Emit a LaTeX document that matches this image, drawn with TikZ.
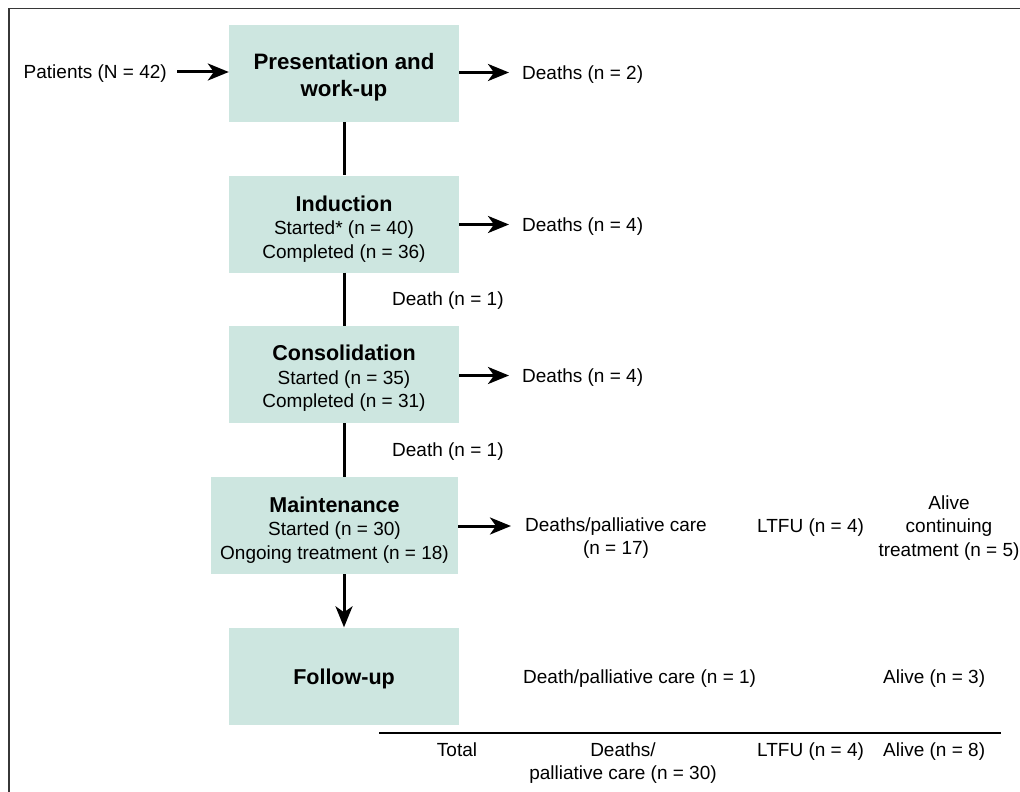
\documentclass[tikz,border=0pt]{standalone}
\usepackage{fontspec}
\setmainfont{Liberation Sans}
\usetikzlibrary{arrows.meta}
\definecolor{boxfill}{RGB}{205,230,224}
\definecolor{framegray}{RGB}{55,55,55}
\newcommand{\upstrut}[1]{\rule{0pt}{#1}}
\begin{document}
\begin{tikzpicture}[x=1pt,y=-1pt,
  stage/.style={fill=boxfill, minimum width=230pt, minimum height=97pt, inner sep=0pt, align=center, font=\fontsize{19}{23.5}\selectfont},
  lbl/.style={inner sep=0pt, font=\fontsize{19}{23}\selectfont, text height=13.6pt, text depth=0pt},
  mlbl/.style={inner sep=0pt, align=center, font=\fontsize{19}{23.5}\selectfont},
  arr/.style={line width=3pt, -{Stealth[length=21pt,width=17pt,inset=6pt]}},
  ln/.style={line width=3pt}]
\useasboundingbox (0,0) rectangle (1020,792);
\clip (0,0) rectangle (1020,792);
% frame
\draw[line width=1.8pt, framegray] (9,820) -- (9,8.5) -- (1040,8.5);
% stage boxes
\node[stage, font=\bfseries\fontsize{22.3}{27}\selectfont] (b1) at (344,73.5) {\upstrut{24pt}Presentation and\\work-up};
\node[stage] (b2) at (344,224) {\upstrut{25pt}{\bfseries\fontsize{21.5}{26}\selectfont Induction}\\Started* (n = 40)\\Completed (n = 36)};
\node[stage] (b3) at (344,374.5) {\upstrut{23pt}{\bfseries\fontsize{21.5}{26}\selectfont Consolidation}\\Started (n = 35)\\Completed (n = 31)};
\node[stage, minimum width=247pt] (b4) at (334.5,525.5) {\upstrut{24pt}{\bfseries\fontsize{21.5}{26}\selectfont Maintenance}\\Started (n = 30)\\Ongoing treatment (n = 18)};
\node[stage, font=\bfseries\fontsize{21.5}{26}\selectfont] (b5) at (344,676) {\upstrut{22pt}Follow-up};
% labels
\node[lbl, anchor=east] (pat) at (167,72) {Patients (N = 42)};
\node[lbl, anchor=west] (d1) at (522,72.5) {Deaths (n = 2)};
\node[lbl, anchor=west] (d2) at (522,224.5) {Deaths (n = 4)};
\node[lbl, anchor=west] (x1) at (392,298.5) {Death (n = 1)};
\node[lbl, anchor=west] (d3) at (522,375.5) {Deaths (n = 4)};
\node[lbl, anchor=west] (x2) at (392,449.5) {Death (n = 1)};
\node[mlbl] (d4) at (616,538) {Deaths/palliative care\\(n = 17)};
\node[lbl, anchor=west] (l4) at (757,526) {LTFU (n = 4)};
\node[mlbl] (a4) at (949,528) {Alive\\continuing\\treatment (n = 5)};
\node[lbl, anchor=west] (f1) at (523,677) {Death/palliative care (n = 1)};
\node[lbl, anchor=west] (f2) at (883,677) {Alive (n = 3)};
% totals
\coordinate (r1) at (379,733);
\coordinate (r2) at (1001,733);
\draw[line width=2.2pt] (r1) -- (r2);
\node[lbl] (t0) at (457,750) {Total};
\node[mlbl] (t1) at (623,763) {Deaths/\\palliative care (n = 30)};
\node[lbl, anchor=west] (t2) at (757,750) {LTFU (n = 4)};
\node[lbl, anchor=west] (t3) at (883,750) {Alive (n = 8)};
% connectors
\draw[arr, shorten <=10pt] (pat.east) -- (pat.east -| b1.west);
\draw[arr, shorten >=13pt] (b1.east |- d1.west) -- (d1.west);
\draw[arr, shorten >=13pt] (b2.east |- d2.west) -- (d2.west);
\draw[arr, shorten >=13pt] (b3.east |- d3.west) -- (d3.west);
\draw[arr, shorten >=14pt] (b4.east |- l4.west) -- (d4.west |- l4.west);
\draw[ln] (b1.south) -- (b2.north);
\draw[ln] (b2.south) -- (b3.north);
\draw[ln] (b3.south) -- (b3.south |- b4.north);
\draw[arr] (b4.south -| b5.north) -- (b5.north);
\end{tikzpicture}
\end{document}
